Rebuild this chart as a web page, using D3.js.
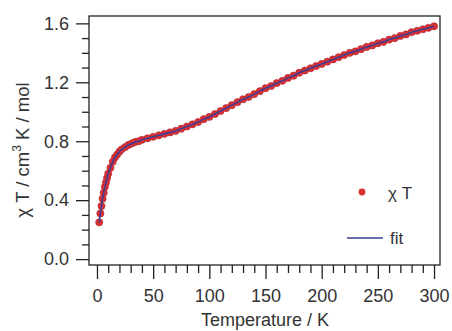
<!DOCTYPE html>
<html>
<head>
<meta charset="utf-8">
<script src="https://cdn.jsdelivr.net/npm/d3@7"></script>
<style>
  body { margin: 0; background: #fff; }
  svg { display: block; font-family: "Liberation Sans", Arial, sans-serif; }
</style>
</head>
<body>
<div id="chart"></div>
<script>
// temperature (K) and chi*T (cm3 K / mol)
const temps = [2, 3, 4, 5, 6, 7, 8, 9, 10, 12, 14, 16, 18, 20, 22, 25, 28, 31, 34, 37, 40,
  45, 50, 55, 60, 65, 70, 75, 80, 85, 90, 95, 100, 105, 110, 115, 120, 125, 130, 135, 140,
  145, 150, 155, 160, 165, 170, 175, 180, 185, 190, 195, 200, 205, 210, 215, 220, 225, 230,
  235, 240, 245, 250, 255, 260, 265, 270, 275, 280, 285, 290, 295, 300];
const chiT = [0.25, 0.31, 0.36, 0.41, 0.45, 0.49, 0.52, 0.55, 0.58, 0.62, 0.66, 0.69, 0.71, 0.73, 0.745, 0.76, 0.775, 0.785, 0.795, 0.80, 0.81,
  0.82, 0.83, 0.84, 0.85, 0.86, 0.87, 0.885, 0.90, 0.915, 0.93, 0.95, 0.965, 0.985, 1.005, 1.025, 1.045, 1.065, 1.085, 1.10, 1.12,
  1.14, 1.16, 1.175, 1.195, 1.21, 1.23, 1.245, 1.265, 1.28, 1.295, 1.31, 1.325, 1.34, 1.355, 1.37, 1.385, 1.40, 1.41,
  1.425, 1.44, 1.45, 1.465, 1.475, 1.49, 1.50, 1.515, 1.525, 1.54, 1.55, 1.56, 1.57, 1.58];
// fit curve follows the data closely
const fitChiT = chiT.slice();

const xTicks = [0, 50, 100, 150, 200, 250, 300];
const yTicks = [0.0, 0.4, 0.8, 1.2, 1.6];

const width = 452, height = 331;
const plotLeft = 89, plotRight = 440, plotTop = 16, plotBottom = 265;

const svg = d3.select('#chart').append('svg')
  .attr('width', width)
  .attr('height', height);

const x = d3.scaleLinear().domain([-7.1, 305.3]).range([plotLeft, plotRight]);
const y = d3.scaleLinear().domain([-0.04, 1.65]).range([plotBottom, plotTop]);

// frame
svg.append('rect')
  .attr('x', plotLeft).attr('y', plotTop)
  .attr('width', plotRight - plotLeft).attr('height', plotBottom - plotTop)
  .attr('fill', 'none').attr('stroke', '#222').attr('stroke-width', 1.3);

// minor ticks
const xMinor = d3.range(0, 301, 10).filter(v => v % 50 !== 0);
const yMinor = d3.range(0, 17, 1).map(v => v / 10).filter((v, i) => i % 4 !== 0);

svg.append('g')
  .attr('transform', `translate(0,${plotBottom})`)
  .call(d3.axisBottom(x).tickValues(xMinor).tickSize(8).tickFormat(''))
  .call(g => g.select('.domain').remove());
svg.append('g')
  .attr('transform', `translate(${plotLeft},0)`)
  .call(d3.axisLeft(y).tickValues(yMinor).tickSize(7).tickFormat(''))
  .call(g => g.select('.domain').remove());

// major ticks
const xAxis = svg.append('g')
  .attr('transform', `translate(0,${plotBottom})`)
  .call(d3.axisBottom(x).tickValues(xTicks).tickSize(14).tickPadding(10).tickFormat(d3.format('d')));
xAxis.select('.domain').remove();

const yAxis = svg.append('g')
  .attr('transform', `translate(${plotLeft},0)`)
  .call(d3.axisLeft(y).tickValues(yTicks).tickSize(13).tickPadding(7).tickFormat(d3.format('.1f')));
yAxis.select('.domain').remove();

svg.selectAll('.tick line').attr('stroke', '#222').attr('stroke-width', 1.3);
svg.selectAll('.tick text').attr('font-size', 18).attr('fill', '#333')
  .attr('font-family', '"Liberation Sans", Arial, sans-serif');

// data markers
const pts = temps.map((t, i) => ({ t: t, v: chiT[i] }));
svg.append('g').selectAll('circle')
  .data(pts)
  .enter()
  .append('circle')
  .attr('cx', d => x(d.t))
  .attr('cy', d => y(d.v))
  .attr('r', 3.6)
  .attr('fill', '#d93030')
  .attr('stroke', '#b02a3a')
  .attr('stroke-width', 0.6);

// fit line
const line = d3.line()
  .x((d, i) => x(temps[i]))
  .y(d => y(d))
  .curve(d3.curveMonotoneX);
svg.append('path')
  .datum(fitChiT)
  .attr('d', line)
  .attr('fill', 'none')
  .attr('stroke', '#3c3f96')
  .attr('stroke-width', 1.6);

// legend
svg.append('circle')
  .attr('cx', 362).attr('cy', 192).attr('r', 3.4)
  .attr('fill', '#d93030');
svg.append('text')
  .attr('x', 388).attr('y', 199)
  .attr('font-size', 17).attr('fill', '#333')
  .text('χ T');
svg.append('line')
  .attr('x1', 347).attr('x2', 383)
  .attr('y1', 238).attr('y2', 238)
  .attr('stroke', '#3c3f96').attr('stroke-width', 1.4);
svg.append('text')
  .attr('x', 390).attr('y', 244)
  .attr('font-size', 17).attr('fill', '#333')
  .text('fit');

// axis titles
svg.append('text')
  .attr('x', 265).attr('y', 326)
  .attr('text-anchor', 'middle')
  .attr('font-size', 18).attr('fill', '#333')
  .text('Temperature / K');

const yl = svg.append('text')
  .attr('transform', 'translate(29,150) rotate(-90)')
  .attr('text-anchor', 'middle')
  .attr('font-size', 18.5).attr('fill', '#333');
yl.append('tspan').text('χ T / cm');
yl.append('tspan').attr('dy', -8).attr('font-size', 12).text('3');
yl.append('tspan').attr('dy', 8).text(' K / mol');
</script>
</body>
</html>
